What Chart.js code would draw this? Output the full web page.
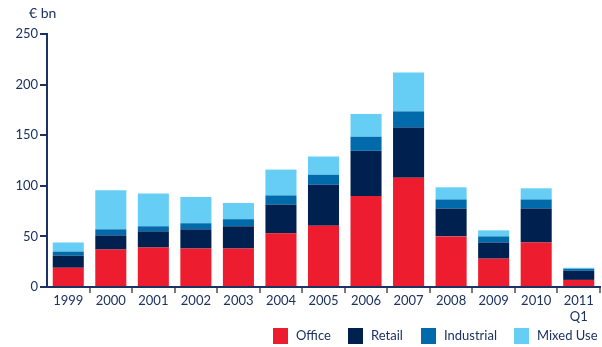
<!DOCTYPE html>
<html lang="en">
<head>
    <meta charset="UTF-8">
    <title>Investment volumes</title>
    <style>
        body { margin: 0; background: #fff; }
        .chart-box { position: relative; width: 602px; height: 347px; }
    </style>
    <script src="https://cdn.jsdelivr.net/npm/chart.js"></script>
</head>
<body>
    <div class="chart-box">
        <canvas id="volChart"></canvas>
    </div>

    <script>
        // Werte in € bn
        const years = ['1999', '2000', '2001', '2002', '2003', '2004', '2005', '2006', '2007', '2008', '2009', '2010', ['2011', 'Q1']];
        const office     = [19, 37, 39, 38, 38, 53, 60.5, 90, 108, 50, 28, 44, 7];
        const retail     = [12, 14, 16, 19, 22, 28.5, 40.5, 44.5, 49.5, 27.5, 16, 33.5, 9];
        const industrial = [4, 6, 5, 6, 7, 9, 10, 14, 16, 9, 6, 9, 2];
        const mixedUse   = [9, 38.5, 32.5, 26, 16, 25.5, 18, 22.5, 38.5, 12, 6, 11, 1];
        const yTicks = [0, 50, 100, 150, 200, 250];

        const navy = '#1c3262';
        const fontFam = 'Lato, "Open Sans", sans-serif';

        // Einheit oben links + Legende unten rechts
        const extras = {
            id: 'extras',
            afterDraw(chart) {
                const ctx = chart.ctx;
                ctx.save();
                ctx.fillStyle = navy;
                ctx.font = '14px ' + fontFam;
                ctx.textBaseline = 'middle';
                ctx.textAlign = 'left';
                ctx.fillText('€ bn', 29, 13);

                const boxX = [273, 348, 421, 514];
                ctx.font = '13px ' + fontFam;
                chart.data.datasets.forEach((ds, i) => {
                    ctx.fillStyle = ds.backgroundColor;
                    ctx.fillRect(boxX[i], 328, 15, 16);
                    ctx.fillStyle = navy;
                    ctx.fillText(ds.label, boxX[i] + 23, 336);
                });
                ctx.restore();
            }
        };

        new Chart(document.getElementById('volChart'), {
            type: 'bar',
            data: {
                labels: years,
                datasets: [
                    { label: 'Office', data: office, backgroundColor: '#ED1C2E' },
                    { label: 'Retail', data: retail, backgroundColor: '#00214F' },
                    { label: 'Industrial', data: industrial, backgroundColor: '#006AAB' },
                    { label: 'Mixed Use', data: mixedUse, backgroundColor: '#66CEF5' }
                ]
            },
            options: {
                responsive: true,
                maintainAspectRatio: false,
                animation: false,
                datasets: {
                    bar: { barPercentage: 0.73, categoryPercentage: 1, borderWidth: 0 }
                },
                layout: { padding: { top: 34, right: 2, left: 0, bottom: 0 } },
                plugins: {
                    legend: { display: false },
                    tooltip: { enabled: false }
                },
                scales: {
                    x: {
                        stacked: true,
                        afterFit: (s) => { s.height = 60; },
                        border: { color: navy, width: 2 },
                        grid: {
                            offset: true,
                            drawOnChartArea: false,
                            tickLength: 6,
                            lineWidth: 2,
                            tickColor: (c) => c.index === 0 ? 'rgba(0,0,0,0)' : '#7a7a7a'
                        },
                        ticks: {
                            color: navy,
                            padding: 0,
                            maxRotation: 0,
                            autoSkip: false,
                            font: { family: fontFam, size: 13, lineHeight: 1.2 }
                        }
                    },
                    y: {
                        stacked: true,
                        min: 0,
                        max: 250,
                        afterFit: (s) => { s.width = 47; },
                        afterBuildTicks: (s) => { s.ticks = yTicks.map(v => ({ value: v })); },
                        border: { color: navy, width: 2 },
                        grid: {
                            drawOnChartArea: false,
                            tickLength: 7,
                            lineWidth: 2,
                            tickColor: navy
                        },
                        ticks: {
                            color: navy,
                            padding: 2,
                            font: { family: fontFam, size: 13 }
                        }
                    }
                }
            },
            plugins: [extras]
        });
    </script>
</body>
</html>
